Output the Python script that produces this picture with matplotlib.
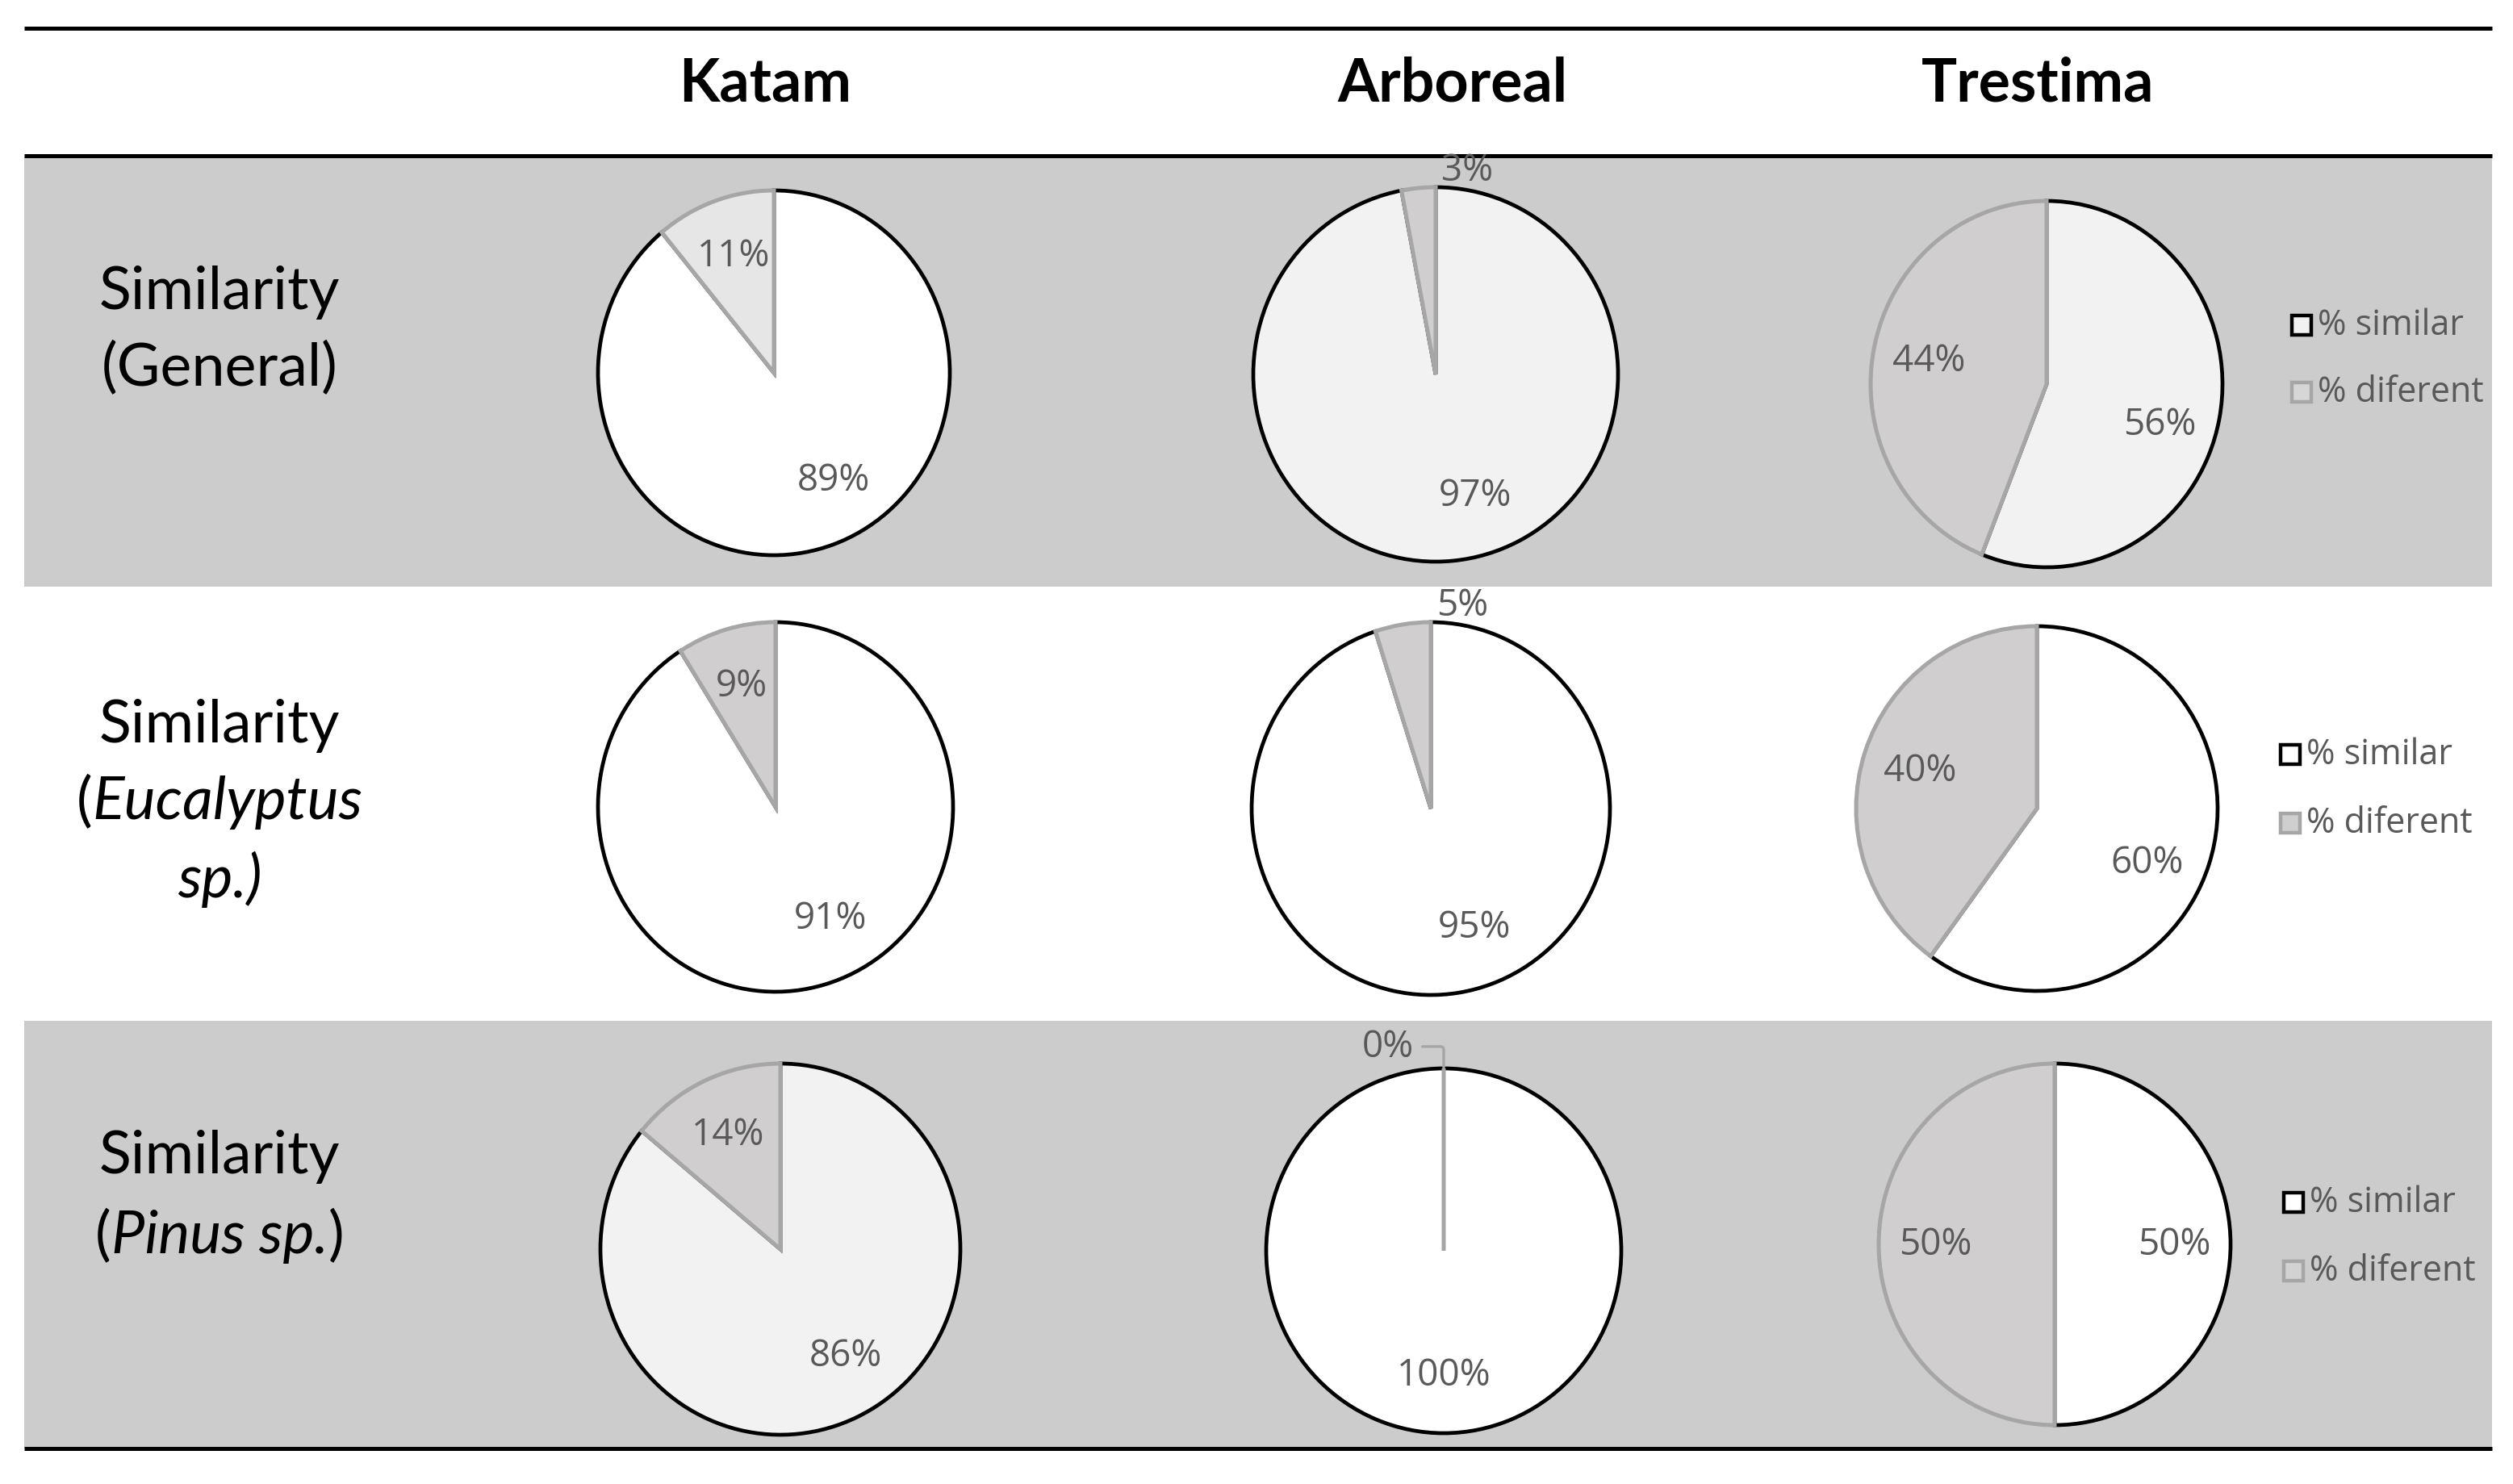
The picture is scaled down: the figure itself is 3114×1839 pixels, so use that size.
import matplotlib
matplotlib.use('Agg')
import matplotlib.pyplot as plt
from matplotlib.patches import Rectangle
import numpy as np

# data
tools = ['Katam', 'Arboreal', 'Trestima']
similar = [[89, 97, 56],
           [91, 95, 60],
           [86, 100, 50]]
diferent = [[11, 3, 44],
            [9, 5, 40],
            [14, 0, 50]]
legend_labels = ['% similar', '% diferent']
row_labels = [
    [[('Similarity', 'normal')], [('(General)', 'normal')]],
    [[('Similarity', 'normal')], [('(', 'normal'), ('Eucalyptus', 'italic')], [('sp.)', 'italic')]],
    [[('Similarity', 'normal')], [('(', 'normal'), ('Pinus sp.', 'italic'), (')', 'normal')]],
]

# layout (pixels of the 3114x1840 picture)
W, H = 3114, 1840
header_x = [948, 1800, 2525]
header_y = 104
label_x = 272
label_y = [[362, 457], [900, 995, 1090], [1434, 1533]]
pie_cx = [[959, 1779, 2536], [961, 1773, 2524], [967, 1789, 2546]]
pie_cy = [[463, 465, 477], [1001, 1003, 1003], [1549, 1551, 1543]]
pie_rx = [[218, 226, 218], [220, 222, 224], [223, 220, 218]]
pie_ry = [[226, 232, 227], [229, 231, 226], [230, 226, 224]]
# small turn (degrees, counter-clockwise) of the big-slice label, like Excel's best fit
label_turn = [[10, 13, -8], [11, 12, -8], [7, 0, 0]]
leg_x = [2852, 2838, 2842]
leg_y = [(404, 487), (936, 1021), (1491, 1576)]

sim_colors = [['#ffffff', '#f2f2f2', '#f2f2f2'],
              ['#ffffff', '#ffffff', '#ffffff'],
              ['#f2f2f2', '#ffffff', '#ffffff']]
dif_colors = [['#e7e6e6', '#d0cece', '#d0cece'],
              ['#d0cece', '#d0cece', '#d0cece'],
              ['#d0cece', '#d0cece', '#d0cece']]
leg_sim_fill = ['#f2f2f2', '#ffffff', '#ffffff']
leg_dif_fill = ['#d6d6d6', '#cfcfcf', '#d2d2d2']
band = '#cccccc'
edge_gray = '#a6a6a6'
txt_gray = '#595959'

fig = plt.figure(figsize=(W / 200, H / 200), dpi=200, facecolor='white')
bg = fig.add_axes([0, 0, 1, 1])
bg.set_xlim(0, W)
bg.set_ylim(H, 0)
bg.axis('off')

# row bands and rules
bg.add_patch(Rectangle((30, 194), 3058, 534, facecolor=band, lw=0))
bg.add_patch(Rectangle((30, 1266), 3058, 530, facecolor=band, lw=0))
for y in [36, 194, 1796]:
    bg.plot([30, 3088], [y, y], color='black', lw=1.8, solid_capstyle='butt')

for x, t in zip(header_x, tools):
    bg.text(x, header_y, t, fontsize=26.5, fontweight='bold', family='Lato',
            ha='center', va='center')

renderer = fig.canvas.get_renderer()


def rich_line(x, y, parts, size=26.5):
    texts = [bg.text(0, y, s, fontsize=size, fontstyle=st, family='Lato',
                     ha='left', va='center') for s, st in parts]
    widths = [t.get_window_extent(renderer).width for t in texts]
    x0 = x - sum(widths) / 2
    for t, w in zip(texts, widths):
        t.set_x(x0)
        x0 += w


for i, lines in enumerate(row_labels):
    for parts, y in zip(lines, label_y[i]):
        rich_line(label_x, y, parts)

pad = 1.35
for i in range(3):
    for j in range(3):
        cx, cy, rx, ry = pie_cx[i][j], pie_cy[i][j], pie_rx[i][j], pie_ry[i][j]
        ax = fig.add_axes([(cx - pad * rx) / W, 1 - (cy + pad * ry) / H,
                           2 * pad * rx / W, 2 * pad * ry / H])
        vals = [similar[i][j], diferent[i][j]]
        wedges, _ = ax.pie(vals, colors=[sim_colors[i][j], dif_colors[i][j]],
                           startangle=90, counterclock=False)
        wedges[0].set_edgecolor('black')
        wedges[0].set_linewidth(1.7)
        wedges[1].set_edgecolor(edge_gray)
        wedges[1].set_linewidth(1.8)
        ax.set_aspect('auto')
        ax.set_xlim(-pad, pad)
        ax.set_ylim(-pad, pad)
        ax.axis('off')
        for k, (w, v) in enumerate(zip(wedges, vals)):
            lab = '%d%%' % v
            if v == 0:
                a = np.radians(min(w.theta1, w.theta2))
                ax.annotate(lab, xy=(np.cos(a), np.sin(a)), xytext=(-0.17, 1.12),
                            ha='right', va='center', fontsize=16.5, color=txt_gray,
                            family='Open Sans',
                            arrowprops=dict(arrowstyle='-', color=edge_gray, lw=1.2,
                                            shrinkA=2, shrinkB=0,
                                            connectionstyle='angle,angleA=0,angleB=90,rad=4'))
            elif v < 6:
                a = np.radians(min(w.theta1, w.theta2))
                ax.text(np.cos(a) + 0.03, 1.09 * np.sin(a), lab, ha='left', va='center',
                        fontsize=16.5, color=txt_gray, family='Open Sans')
            else:
                turn = label_turn[i][j] if k == 0 else 0
                a = np.radians((w.theta1 + w.theta2) / 2 + turn)
                ax.text(0.68 * np.cos(a), 0.68 * np.sin(a), lab, ha='center',
                        va='center', fontsize=16.5, color=txt_gray, family='Open Sans')

# legends
sq = 24
for i in range(3):
    fills = [leg_sim_fill[i], leg_dif_fill[i]]
    edges = ['black', edge_gray]
    for k in range(2):
        y = leg_y[i][k]
        bg.add_patch(Rectangle((leg_x[i] - sq / 2, y - sq / 2), sq, sq,
                               facecolor=fills[k], edgecolor=edges[k], lw=1.6))
        bg.text(leg_x[i] + 20, y, legend_labels[k], fontsize=15.5, color=txt_gray,
                family='Open Sans', ha='left', va='center')

fig.savefig('out.png', dpi=200, facecolor='white')
